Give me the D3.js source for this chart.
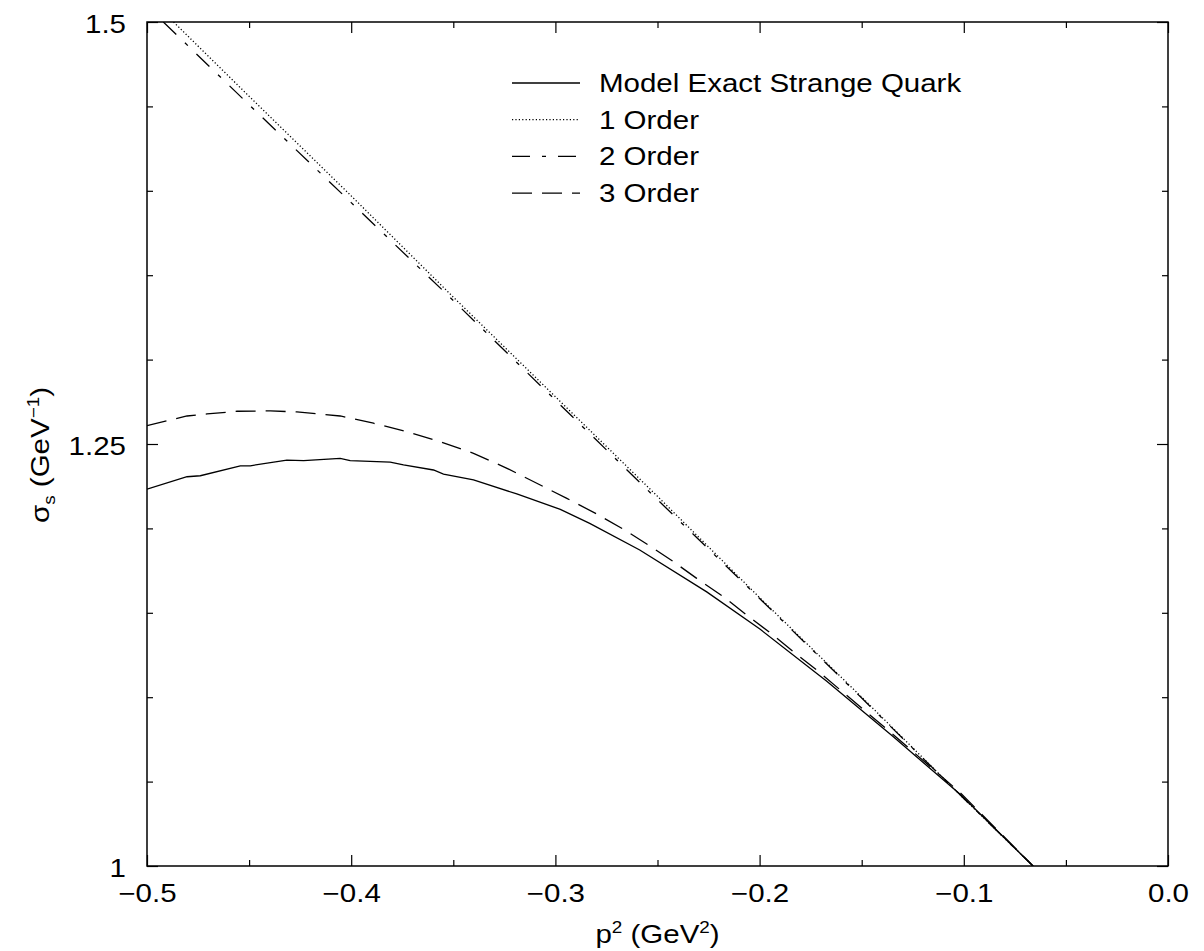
<!DOCTYPE html>
<html>
<head>
<meta charset="utf-8">
<script src="https://cdn.jsdelivr.net/npm/d3@7"></script>
<style>
  html, body { margin: 0; padding: 0; background: #fff; }
  svg { display: block; }
  text { font-family: "Liberation Sans", Arial, Helvetica, sans-serif; fill: #000; }
</style>
</head>
<body>
<svg id="chart" width="1204" height="951"></svg>
<script>
// Strange-quark sigma_s(p^2): exact model curve and its 1st/2nd/3rd order expansions
const exactX  = [-0.5, -0.4804, -0.4739, -0.4543, -0.4494, -0.4315, -0.4233, -0.4054, -0.4005, -0.3809, -0.3744, -0.3597, -0.3548, -0.3401, -0.3189, -0.2976, -0.2832, -0.2587, -0.2259, -0.1997, -0.1671, -0.1345, -0.1018, -0.0661];
const exactY  = [1.2232, 1.2306, 1.2312, 1.2370, 1.2371, 1.2405, 1.2401, 1.2415, 1.2401, 1.2393, 1.2376, 1.2346, 1.2322, 1.2287, 1.2204, 1.2113, 1.2030, 1.1872, 1.1624, 1.1402, 1.1095, 1.0765, 1.0425, 1.0];

const order1X = [-0.487, -0.45, -0.40, -0.35, -0.30, -0.25, -0.20, -0.15, -0.10, -0.0661];
const order1Y = [1.500, 1.456, 1.397, 1.337, 1.278, 1.219, 1.159, 1.100, 1.040, 1.0];

const order2X = [-0.492, -0.45, -0.40, -0.35, -0.30, -0.25, -0.20, -0.15, -0.10, -0.0661];
const order2Y = [1.500, 1.451, 1.393, 1.335, 1.276, 1.217, 1.1585, 1.0995, 1.040, 1.0];

const order3X = [-0.5, -0.4804, -0.4706, -0.4559, -0.4396, -0.4266, -0.4054, -0.3891, -0.3727, -0.3564, -0.3401, -0.3237, -0.3074, -0.2944, -0.2797, -0.2667, -0.2536, -0.2422, -0.2308, -0.2177, -0.2063, -0.1949, -0.1835, -0.1720, -0.1604, -0.1345, -0.1018, -0.0661];
const order3Y = [1.2609, 1.2666, 1.2678, 1.2694, 1.2696, 1.2690, 1.2666, 1.2623, 1.2573, 1.2514, 1.2445, 1.2356, 1.2257, 1.2178, 1.2085, 1.1995, 1.1895, 1.1803, 1.1704, 1.1595, 1.1487, 1.1382, 1.1270, 1.1161, 1.1042, 1.0778, 1.0435, 1.0];

const legendLabels = ["Model Exact Strange Quark", "1 Order", "2 Order", "3 Order"];
const xMajorTicks = [-0.5, -0.4, -0.3, -0.2, -0.1, 0.0];
const xTickLabels = ["\u22120.5", "\u22120.4", "\u22120.3", "\u22120.2", "\u22120.1", "0.0"];
const yMajorTicks = [1, 1.25, 1.5];
const yTickLabels = ["1", "1.25", "1.5"];
const xMinorTicks = [-0.45, -0.35, -0.25, -0.15, -0.05];
const yMinorTicks = [1.05, 1.10, 1.15, 1.20, 1.30, 1.35, 1.40, 1.45];

const svg = d3.select("#chart");
const plotLeft = 147, plotRight = 1168, plotTop = 22, plotBottom = 866;
const fontSize = 25;
const stretch = 1.18;   // glyphs are drawn slightly wide

const x = d3.scaleLinear().domain([-0.5, 0]).range([plotLeft, plotRight]);
const y = d3.scaleLinear().domain([1, 1.5]).range([plotBottom, plotTop]);

svg.append("defs").append("clipPath").attr("id", "plotClip")
  .append("rect").attr("x", plotLeft).attr("y", plotTop)
  .attr("width", plotRight - plotLeft).attr("height", plotBottom - plotTop);

const series = [
  { xs: exactX,  ys: exactY,  dash: null },
  { xs: order1X, ys: order1Y, dash: "1.2,2.2" },
  { xs: order2X, ys: order2Y, dash: "18,12,4,12" },
  { xs: order3X, ys: order3Y, dash: "20,10" }
];

const line = d3.line().x(d => x(d[0])).y(d => y(d[1]));
const plot = svg.append("g").attr("clip-path", "url(#plotClip)");
series.forEach(s => {
  plot.append("path")
    .datum(s.xs.map((v, i) => [v, s.ys[i]]))
    .attr("d", line)
    .attr("fill", "none")
    .attr("stroke", "#000")
    .attr("stroke-width", 1.3)
    .attr("stroke-dasharray", s.dash);
});

// Axes: bottom/left carry labels, top/right mirror the ticks, all pointing inward
function tickAxis(axisGen, transform, major, labels, minor, isLabelled) {
  const gMaj = svg.append("g").attr("transform", transform)
    .call(axisGen.tickValues(major).tickSize(-11)
      .tickFormat((d, i) => isLabelled ? labels[i] : ""));
  const gMin = svg.append("g").attr("transform", transform)
    .call(axisGen.tickValues(minor).tickSize(-6).tickFormat(""));
  [gMaj, gMin].forEach(g => {
    g.select(".domain").remove();
    g.selectAll("line").attr("stroke", "#000").attr("stroke-width", 1.2);
    g.selectAll("text").attr("font-size", fontSize)
      .attr("font-family", "Liberation Sans, Arial, sans-serif");
  });
  return gMaj;
}

const gx = tickAxis(d3.axisBottom(x), `translate(0,${plotBottom})`, xMajorTicks, xTickLabels, xMinorTicks, true);
gx.selectAll("text").attr("x", 0).attr("y", 0).attr("dy", 0)
  .attr("text-anchor", "middle")
  .attr("transform", `translate(0,36) scale(${stretch},1)`);
tickAxis(d3.axisTop(x), `translate(0,${plotTop})`, xMajorTicks, xTickLabels, xMinorTicks, false);
const gy = tickAxis(d3.axisLeft(y), `translate(${plotLeft},0)`, yMajorTicks, yTickLabels, yMinorTicks, true);
gy.selectAll("text").attr("x", 0).attr("dy", "0.36em")
  .attr("text-anchor", "end")
  .attr("transform", `translate(-21,1) scale(${stretch},1)`);
tickAxis(d3.axisRight(y), `translate(${plotRight},0)`, yMajorTicks, yTickLabels, yMinorTicks, false);

// Frame
svg.append("rect")
  .attr("x", plotLeft).attr("y", plotTop)
  .attr("width", plotRight - plotLeft).attr("height", plotBottom - plotTop)
  .attr("fill", "none").attr("stroke", "#000").attr("stroke-width", 1.5);

// Axis titles
const xt = svg.append("g")
  .attr("transform", `translate(${(plotLeft + plotRight) / 2},943) scale(${stretch},1)`)
  .append("text").attr("text-anchor", "middle").attr("font-size", fontSize);
xt.append("tspan").text("p");
xt.append("tspan").attr("dy", -10).attr("font-size", 16).text("2");
xt.append("tspan").attr("dy", 10).text(" (GeV");
xt.append("tspan").attr("dy", -10).attr("font-size", 16).text("2");
xt.append("tspan").attr("dy", 10).text(")");

const yt = svg.append("g")
  .attr("transform", `translate(49,455) rotate(-90) scale(${stretch},1)`)
  .append("text").attr("text-anchor", "middle").attr("font-size", fontSize);
yt.append("tspan").text("\u03c3");
yt.append("tspan").attr("dy", 6).attr("font-size", 16).text("s");
yt.append("tspan").attr("dy", -6).text(" (GeV");
yt.append("tspan").attr("dy", -10).attr("font-size", 16).text("\u22121");
yt.append("tspan").attr("dy", 10).text(")");

// Legend
const legend = svg.append("g");
legendLabels.forEach((lab, i) => {
  const ly = 83 + i * 36.7;
  legend.append("line")
    .attr("x1", 512).attr("x2", 580).attr("y1", ly).attr("y2", ly)
    .attr("stroke", "#000").attr("stroke-width", 1.3)
    .attr("stroke-dasharray", series[i].dash);
  legend.append("g")
    .attr("transform", `translate(599,${ly + 9}) scale(${stretch},1)`)
    .append("text").attr("font-size", fontSize).text(lab);
});
</script>
</body>
</html>
